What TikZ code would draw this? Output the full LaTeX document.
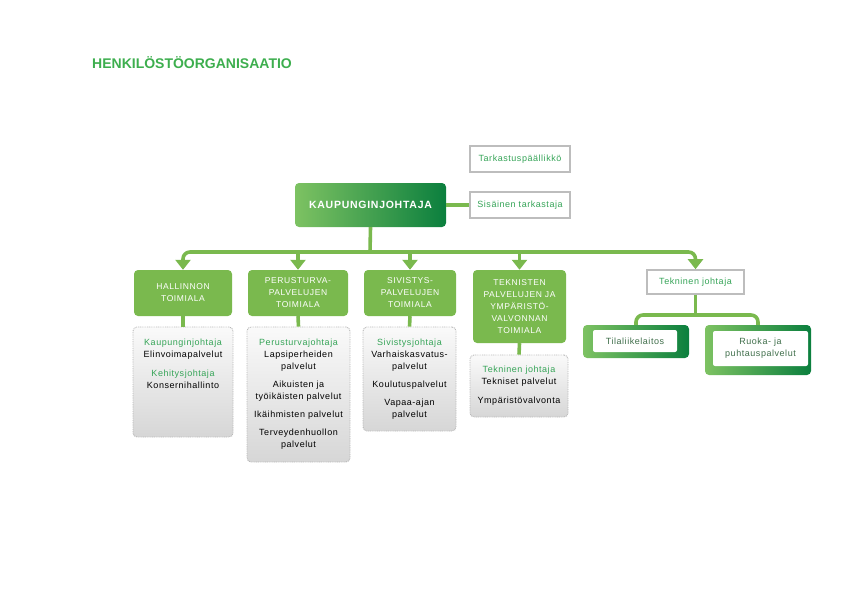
\documentclass[tikz,border=0pt]{standalone}
\usepackage{fontspec}
\setmainfont{Liberation Sans}
\newfontfamily\spacedfont[LetterSpace=6]{Liberation Sans}
\newfontfamily\capsfont[LetterSpace=7]{Liberation Sans}
\usetikzlibrary{arrows.meta, positioning}
\definecolor{orggreen}{HTML}{7AB94E}
\definecolor{orglight}{HTML}{7DC262}
\definecolor{orgdark}{HTML}{0B7F3E}
\definecolor{orgtext}{HTML}{35A457}
\definecolor{orgtitle}{HTML}{3DAE4E}
\definecolor{orgdeep}{HTML}{3F6E4A}
\definecolor{orggray}{HTML}{BDBDBD}

\begin{document}
\begin{tikzpicture}[
  x=1pt, y=-1pt,
  >={Triangle[width=15pt,length=10pt]},
  link/.style={draw=orggreen, line width=3.6pt},
  bus/.style={link, rounded corners=7pt},
  leadbox/.style={rounded corners=4pt, left color=orglight, right color=orgdark,
    text=white, inner sep=0pt, font=\capsfont\bfseries\fontsize{10.5}{12}\selectfont},
  unitbox/.style={rounded corners=4pt, fill=orggreen, text=white, inner sep=0pt,
    align=center, font=\capsfont\fontsize{8.5}{12}\selectfont},
  subbox/.style={rounded corners=4pt, top color=gray!4, bottom color=gray!32,
    draw=gray!55, line width=0.9pt, dash pattern=on 0.9pt off 0.9pt},
  subtext/.style={align=center, inner sep=0pt, font=\spacedfont\fontsize{9}{12}\selectfont},
  auditbox/.style={draw=orggray, line width=1.6pt, fill=white, inner sep=0pt,
    text=orgtext, font=\spacedfont\fontsize{9}{12}\selectfont},
  framebox/.style={rounded corners=4pt, left color=orglight, right color=orgdark},
  innerbox/.style={rounded corners=2pt, fill=white, inner sep=0pt, align=center,
    text=orgdeep, font=\spacedfont\fontsize{9}{12}\selectfont}
]
\useasboundingbox (0,0) rectangle (842,596);

% ---- Title ----
\node[anchor=west, inner sep=0pt, text=orgtitle, font=\bfseries\fontsize{14}{16}\selectfont]
  (title) at (92,63) {HENKILÖSTÖORGANISAATIO};

% ---- Top level ----
\node[leadbox, minimum width=151pt, minimum height=44pt] (kj) at (370.5,205) {KAUPUNGINJOHTAJA};
\node[auditbox, minimum width=100pt, minimum height=26pt] (tp) at (520,159) {Tarkastuspäällikkö};
\node[auditbox, minimum width=100pt, minimum height=26pt] (st) at (520,205) {Sisäinen tarkastaja};
\draw[link] (kj.east) -- (st.west);

% ---- Units ----
\node[unitbox, minimum width=98pt, minimum height=46pt] (hal) at (183,293) {HALLINNON\\TOIMIALA};
\node[unitbox, minimum width=100pt, minimum height=46pt] (per) at (298,293) {PERUSTURVA-\\PALVELUJEN\\TOIMIALA};
\node[unitbox, minimum width=92pt, minimum height=46pt] (siv) at (410,293) {SIVISTYS-\\PALVELUJEN\\TOIMIALA};
\node[unitbox, minimum width=93pt, minimum height=73pt] (tek) at (519.5,306.5)
  {TEKNISTEN\\PALVELUJEN JA\\YMPÄRISTÖ-\\VALVONNAN\\TOIMIALA};
\node[auditbox, minimum width=97pt, minimum height=24pt] (tj) at (695.5,282) {Tekninen johtaja};

% ---- Bus ----
\coordinate (busy) at (370,252);
\draw[link] (kj.south) -- (busy);
\draw[bus, <->] (hal.north) |- (busy) -| (tj.north);
\draw[link, ->] (per.north |- busy) -- (per.north);
\draw[link, ->] (siv.north |- busy) -- (siv.north);
\draw[link, ->] (tek.north |- busy) -- (tek.north);

% ---- Service boxes ----
\node[subbox, minimum width=100pt, minimum height=110pt] (halsub) at (183,382) {};
\node[subbox, minimum width=103pt, minimum height=135pt] (persub) at (298.5,394.5) {};
\node[subbox, minimum width=93pt, minimum height=104pt] (sivsub) at (409.5,379) {};
\node[subbox, minimum width=98pt, minimum height=62pt] (teksub) at (519,386) {};
\foreach \u in {hal,per,siv,tek}
  \draw[link] (\u.south) -- (\u sub.north);

\node[subtext, below=12pt of halsub.north] (haltext)
  {\textcolor{orgtext}{Kaupunginjohtaja}\\Elinvoimapalvelut\\[7pt]
   \textcolor{orgtext}{Kehitysjohtaja}\\Konsernihallinto};
\node[subtext, below=12pt of persub.north] (pertext)
  {\textcolor{orgtext}{Perusturvajohtaja}\\Lapsiperheiden\\palvelut\\[6pt]
   Aikuisten ja\\työikäisten palvelut\\[6pt]Ikäihmisten palvelut\\[6pt]
   Terveydenhuollon\\palvelut};
\node[subtext, below=12pt of sivsub.north] (sivtext)
  {\textcolor{orgtext}{Sivistysjohtaja}\\Varhaiskasvatus-\\palvelut\\[6pt]
   Koulutuspalvelut\\[6pt]Vapaa-ajan\\palvelut};
\node[subtext, below=11pt of teksub.north] (tektext)
  {\textcolor{orgtext}{Tekninen johtaja}\\Tekniset palvelut\\[7pt]Ympäristövalvonta};

% ---- Technical director's units ----
\node[framebox, minimum width=106pt, minimum height=33pt] (tila) at (636,341.5) {};
\node[innerbox, minimum width=84pt, minimum height=22pt] (tilain) at (635,341) {Tilaliikelaitos};
\node[framebox, minimum width=106pt, minimum height=50pt] (ruoka) at (758,350) {};
\node[innerbox, minimum width=95pt, minimum height=35pt] (ruokain) at (760.5,348.5)
  {Ruoka- ja\\puhtauspalvelut};
\coordinate (split) at (695.5,315);
\draw[link] (tj.south) -- (split);
\draw[bus] (tila.north) |- (split) -| (ruoka.north);

\end{tikzpicture}
\end{document}
